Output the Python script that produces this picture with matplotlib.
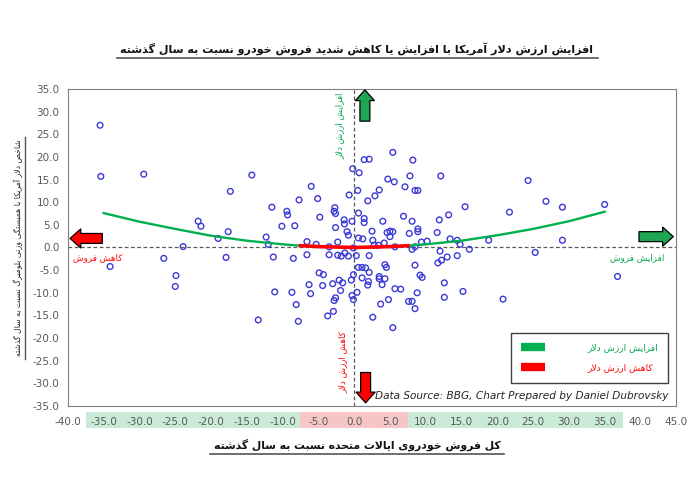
import matplotlib
matplotlib.use('Agg')
import matplotlib.pyplot as plt
import matplotlib.patches as mpatches
import matplotlib.transforms as mtransforms
from matplotlib.lines import Line2D
import numpy as np

plt.rcParams['font.family'] = 'DejaVu Sans'

# Persian letter forms: isolated, final, initial, medial
FORMS = {
    'ا': ('\ufe8d', '\ufe8e'),
    'آ': ('\ufe81', '\ufe82'),
    'د': ('\ufea9', '\ufeaa'),
    'ذ': ('\ufeab', '\ufeac'),
    'ر': ('\ufead', '\ufeae'),
    'ز': ('\ufeaf', '\ufeb0'),
    'و': ('\ufeed', '\ufeee'),
    '\ufefb': ('\ufefb', '\ufefc'),
    'ب': ('\ufe8f', '\ufe90', '\ufe91', '\ufe92'),
    'ت': ('\ufe95', '\ufe96', '\ufe97', '\ufe98'),
    'ح': ('\ufea1', '\ufea2', '\ufea3', '\ufea4'),
    'خ': ('\ufea5', '\ufea6', '\ufea7', '\ufea8'),
    'س': ('\ufeb1', '\ufeb2', '\ufeb3', '\ufeb4'),
    'ش': ('\ufeb5', '\ufeb6', '\ufeb7', '\ufeb8'),
    'ص': ('\ufeb9', '\ufeba', '\ufebb', '\ufebc'),
    'ف': ('\ufed1', '\ufed2', '\ufed3', '\ufed4'),
    'ل': ('\ufedd', '\ufede', '\ufedf', '\ufee0'),
    'م': ('\ufee1', '\ufee2', '\ufee3', '\ufee4'),
    'ن': ('\ufee5', '\ufee6', '\ufee7', '\ufee8'),
    'ه': ('\ufee9', '\ufeea', '\ufeeb', '\ufeec'),
    'ک': ('\ufb8e', '\ufb8f', '\ufb90', '\ufb91'),
    'گ': ('\ufb92', '\ufb93', '\ufb94', '\ufb95'),
    'ی': ('\ufbfc', '\ufbfd', '\ufbfe', '\ufbff'),
}


def fa(text):
    """Shape Persian text into presentation forms, right to left"""
    text = text.replace('لا', '\ufefb')
    out = []
    for i, ch in enumerate(text):
        if ch not in FORMS:
            out.append(ch)
            continue
        prev = text[i - 1] if i > 0 else ''
        nxt = text[i + 1] if i + 1 < len(text) else ''
        forms = FORMS[ch]
        join_prev = prev in FORMS and len(FORMS[prev]) == 4
        join_next = len(forms) == 4 and nxt in FORMS
        if join_prev and join_next:
            out.append(forms[3])
        elif join_prev:
            out.append(forms[1])
        elif join_next:
            out.append(forms[2])
        else:
            out.append(forms[0])
    return ''.join(reversed(out))


TITLE = 'افزایش ارزش دلار آمریکا با افزایش یا کاهش شدید فروش خودرو نسبت به سال گذشته'
XLABEL = 'کل فروش خودروی ایالات متحده نسبت به سال گذشته'
YLABEL = 'شاخص دلار آمریکا با همبستگی وزنی بلومبرگ نسبت به سال گذشته'
DOLLAR_UP = 'افزایش ارزش دلار'
DOLLAR_DOWN = 'کاهش ارزش دلار'
SALES_UP = 'افزایش فروش'
SALES_DOWN = 'کاهش فروش'
SOURCE = 'Data Source: BBG, Chart Prepared by Daniel Dubrovsky'

# US auto sales y/y (%) vs Bloomberg dollar index y/y (%)
SALES = [-35.5, -35.4, -34.1, -29.4, -26.6, -24.9, -25.0, -23.9, -21.8, -21.4,
         -19.0, -17.9, -17.3, -17.6, -14.3, -13.4, -12.3, -12.0, -6.0, -7.7,
         -5.1, -11.5, -9.4, -9.3, -4.8, -2.7, -2.8, -2.6, -0.2, 0.7,
         -0.7, 0.5, 0.6, 1.4, -10.1, -8.3, -2.6, -1.4, -1.35, -0.3,
         -1.0, -6.6, -5.3, -3.5, -2.3, -0.8, 0.6, 1.2, -0.1, -11.3,
         -8.5, -6.6, -3.5, -2.3, -1.8, -1.3, -0.8, 0.3, -4.9, -4.3,
         -0.1, 0.6, 1.1, 1.1, -2.1, -1.6, -0.4, -6.3, -4.4, -3.0,
         -11.1, -8.7, -6.1, -1.9, 0.4, -0.3, -0.1, -2.6, -2.8, -8.1,
         -2.9, -3.7, -7.8, 5.4, 2.1, 8.2, 7.8, 12.1, 4.7, 5.6,
         7.1, 3.5, 2.9, 8.5, 8.9, 1.9, 15.5, 21.7, 6.9, 13.2,
         1.4, 1.4, 4.0, 8.1, 11.9, 2.5, 4.6, 5.0, 5.4, 7.7,
         8.9, 8.9, 11.6, 2.6, 2.8, 3.4, 4.2, 5.0, 5.7, 8.1,
         8.5, 9.4, 10.2, 13.4, 14.4, 14.8, 18.8, 16.1, 12.0, 12.2,
         11.7, 13.0, 14.4, 2.1, 8.5, 4.3, 4.5, 1.6, 2.1, 9.2,
         9.5, 2.0, 3.5, 3.5, 4.3, 1.9, 3.9, 5.7, 6.5, 8.8,
         12.6, 15.2, 12.6, 20.8, 4.8, 7.6, 8.1, 3.7, 8.5, 2.6,
         5.4, 24.3, 26.8, 29.1, 35.0, 29.1, 25.3, 36.8]
DOLLAR = [27.0, 15.7, -4.2, 16.2, -2.4, -6.2, -8.6, 0.2, 5.8, 4.7,
          2.0, -2.2, 12.4, 3.5, 16.0, -16.0, 2.3, 0.7, 13.5, 10.5,
          10.8, 8.9, 8.0, 7.2, 6.7, 8.8, 8.0, 7.5, 17.4, 16.5,
          11.6, 12.6, 7.6, 19.4, 4.7, 4.8, 4.4, 6.1, 5.2, 5.8,
          3.5, 1.3, 0.7, 0.15, 1.2, 2.7, 2.1, 1.9, -0.1, -2.1,
          -2.4, -1.6, -1.6, -1.7, -1.9, -1.2, -1.9, -1.8, -5.6, -6.0,
          -6.0, -4.4, -4.4, -6.7, -7.2, -7.8, -7.2, -8.2, -8.4, -8.0,
          -9.8, -9.9, -10.2, -9.5, -9.9, -10.6, -11.5, -11.1, -11.7, -12.6,
          -14.1, -15.1, -16.3, 21.0, 19.5, 19.3, 15.8, 15.8, 15.1, 14.5,
          13.4, 12.7, 11.4, 12.6, 12.6, 10.3, 9.0, 7.8, 6.9, 7.2,
          6.4, 5.5, 5.8, 5.8, 6.1, 3.6, 3.3, 3.6, 3.5, 3.1,
          3.5, 4.1, 3.3, 1.6, 0.5, 0.5, 1.0, 2.4, 0.15, -0.4,
          0.15, 1.2, 1.4, 1.9, 1.6, 0.7, 1.6, -0.4, -0.8, -2.8,
          -3.4, -2.1, -1.8, -1.8, -3.9, -3.8, -4.4, -4.5, -5.5, -6.1,
          -6.6, -7.5, -6.4, -6.9, -6.9, -8.3, -8.2, -9.1, -9.2, -10.0,
          -7.8, -9.7, -11.0, -11.4, -11.5, -11.9, -11.9, -12.5, -13.5, -15.4,
          -17.7, 14.8, 10.2, 8.9, 9.5, 1.6, -1.1, -6.4]

# trend line
TREND_X = [-35, -30, -25, -20, -15, -10, -7.5, -5, 0, 5, 7.5, 10, 15, 20, 25, 30, 35]
TREND_Y = [7.6, 5.7, 4.1, 2.6, 1.5, 0.7, 0.4, 0.2, 0.0, 0.2, 0.4, 0.7, 1.5, 2.7, 4.1, 5.8, 7.9]

XTICKS = list(range(-40, 50, 5))
YTICKS = list(range(-35, 40, 5))

GREEN = '#00b050'
RED = '#ff0000'
BLUE = '#3a3ad6'
GRAY = '#595959'

fig = plt.figure(figsize=(7, 5), dpi=100)
ax = fig.add_axes([0.097, 0.188, 0.869, 0.634])

ax.scatter(SALES, DOLLAR, s=17, facecolors='none', edgecolors=BLUE,
           linewidths=1.0, zorder=3)

tx = np.array(TREND_X, dtype=float)
ty = np.array(TREND_Y)
left = tx <= -7.5
mid = (tx >= -7.5) & (tx <= 7.5)
right = tx >= 7.5
ax.plot(tx[left], ty[left], color=GREEN, lw=1.7, zorder=4)
ax.plot(tx[right], ty[right], color=GREEN, lw=1.7, zorder=4)
ax.plot(tx[mid], ty[mid], color=RED, lw=2.6, zorder=4)

ax.axhline(0, color=GRAY, lw=0.9, ls=(0, (3, 2)), zorder=2)
ax.axvline(0, color=GRAY, lw=0.9, ls=(0, (3, 2)), zorder=2)

# block arrows
def block_arrow(tail, tip, color):
    ax.annotate('', xy=tip, xytext=tail,
                arrowprops=dict(arrowstyle='simple,head_length=0.7,head_width=1.25,tail_width=0.65',
                                fc=color, ec='black', lw=0.9, mutation_scale=11,
                                shrinkA=0, shrinkB=0), zorder=5)

block_arrow((1.5, 27.9), (1.5, 34.8), '#1ea653')
block_arrow((1.6, -27.6), (1.6, -34.3), RED)
block_arrow((-35.2, 2.0), (-39.7, 2.0), RED)
block_arrow((39.8, 2.4), (44.6, 2.4), '#1ea653')

ax.text(-35.8, -2.2, fa(SALES_DOWN), color=RED, fontsize=6.3, ha='center', va='center')
ax.text(39.6, -2.2, fa(SALES_UP), color='#00a64f', fontsize=6.3, ha='center', va='center')
ax.text(-2.0, 26.8, fa(DOLLAR_UP), color='#00a64f', fontsize=6.2, rotation=90,
        ha='center', va='center')
ax.text(-1.6, -25.3, fa(DOLLAR_DOWN), color=RED, fontsize=6.2, rotation=90,
        ha='center', va='center')

ax.text(0.987, 0.033, SOURCE, transform=ax.transAxes, ha='right', va='center',
        style='italic', fontsize=7.6, color='#262626')

leg = ax.legend(handles=[Line2D([], [], color=GREEN, lw=6, solid_capstyle='butt'),
                         Line2D([], [], color=RED, lw=6, solid_capstyle='butt')],
                labels=[fa(DOLLAR_UP), fa(DOLLAR_DOWN)],
                loc='lower right', bbox_to_anchor=(0.987, 0.073),
                fancybox=False, framealpha=1, edgecolor='#404040',
                fontsize=6.6, handlelength=2.6, handletextpad=4.6,
                borderpad=1.15, labelspacing=1.2, borderaxespad=0)
leg.get_frame().set_linewidth(1.0)
for t, c in zip(leg.get_texts(), ['#00a64f', RED]):
    t.set_color(c)

ax.set_xlim(-40, 45)
ax.set_ylim(-35, 35)
ax.set_xticks(XTICKS)
ax.set_yticks(YTICKS)
ax.set_xticklabels([f'{v:.1f}' for v in XTICKS])
ax.set_yticklabels([f'{v:.1f}' for v in YTICKS])
ax.tick_params(length=0, labelsize=7.5, labelcolor=GRAY)
ax.tick_params(axis='x', pad=8)
ax.tick_params(axis='y', pad=6)
for sp in ax.spines.values():
    sp.set_color('#7f7f7f')
    sp.set_linewidth(0.8)

# colored band behind x tick labels
trans = mtransforms.blended_transform_factory(ax.transData, ax.transAxes)
for x0, x1, c in [(-37.5, -7.5, '#c8ead6'), (-7.5, 7.5, '#f6c6c6'), (7.5, 37.5, '#c8ead6')]:
    ax.add_patch(mpatches.Rectangle((x0, -0.07), x1 - x0, 0.05, transform=trans,
                                    facecolor=c, edgecolor='none', clip_on=False, zorder=0.5))

title = fig.text(0.51, 0.902, fa(TITLE), ha='center', va='center',
                 fontsize=8.0, fontweight='bold', color='#111111')
xlab = fig.text(0.51, 0.11, fa(XLABEL), ha='center', va='center',
                fontsize=7.8, fontweight='bold', color='#111111')
ylab = fig.text(0.026, 0.504, fa(YLABEL), ha='center', va='center',
                fontsize=5.6, rotation=90, color='#222222')

# underlines
fig.canvas.draw()
W, H = fig.bbox.width, fig.bbox.height
for t in (title, xlab):
    bb = t.get_window_extent()
    y = (bb.y0 - 3) / H
    fig.add_artist(Line2D([(bb.x0 - 4) / W, (bb.x1 + 4) / W], [y, y],
                          color='#555555', lw=1.2))
bb = ylab.get_window_extent()
x = (bb.x1 + 2) / W
fig.add_artist(Line2D([x, x], [(bb.y0 - 3) / H, (bb.y1 + 3) / H], color='#555555', lw=1.0))

fig.savefig('out.png', dpi=100, facecolor='white')
